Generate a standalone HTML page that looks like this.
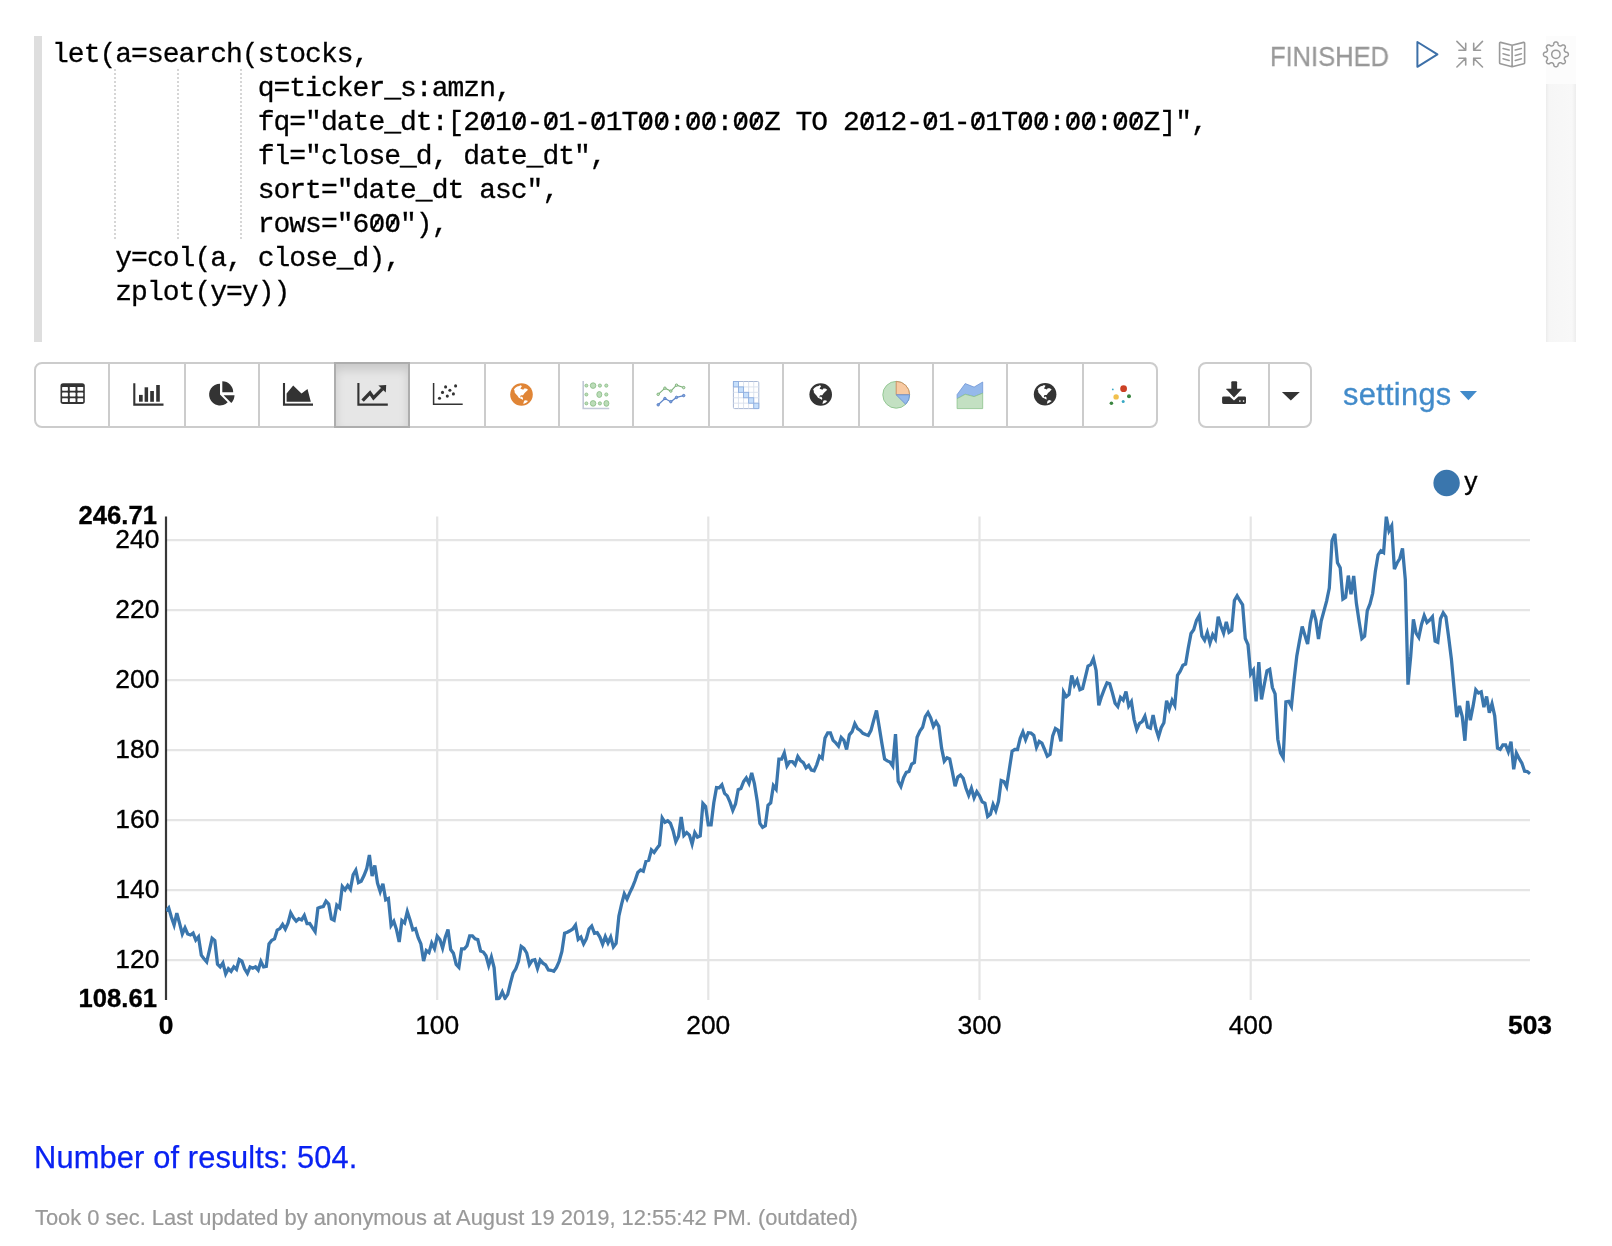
<!DOCTYPE html>
<html>
<head>
<meta charset="utf-8">
<title>Zeppelin paragraph</title>
<style>
html,body{margin:0;padding:0;background:#fff;}
body{width:1612px;height:1246px;position:relative;overflow:hidden;font-family:"Liberation Sans",sans-serif;color:#000;}
.abs{position:absolute;}
#gutter{left:34px;top:36px;width:8px;height:306px;background:#dedede;}
#scroll{left:1546px;top:84px;width:30px;height:258px;background:linear-gradient(to right,#ececec 0,#f6f6f6 3px,#f8f8f8 26px,#ededed 30px);}
#scrolltop{left:1546px;top:36px;width:30px;height:48px;background:#fcfcfc;}
#code{left:52.4px;top:38.2px;margin:0;font-family:"Liberation Mono",monospace;font-size:28px;letter-spacing:-0.983px;line-height:34px;color:#000;white-space:pre;-webkit-text-stroke:0.3px #000;}
.guide{width:0;border-left:2px dotted #d6d6d6;top:69px;height:170px;}
#status{-webkit-text-stroke:0.3px #999;left:1270.2px;top:40.6px;font-size:27.4px;line-height:32px;color:#999;transform:scaleX(0.931);transform-origin:0 0;white-space:nowrap;}
.btn{position:absolute;top:362px;height:62px;border:2px solid #ccc;background:#fff;}
.btn.first{border-radius:8px 0 0 8px;}
.btn.last{border-radius:0 8px 8px 0;}
.btn.active{background:#e6e6e6;border-color:#adadad;box-shadow:inset 0 6px 10px rgba(0,0,0,.125);z-index:2;}
#settings{-webkit-text-stroke:0.3px #428bca;left:1342.8px;top:377.4px;letter-spacing:0.3px;font-size:30.8px;line-height:36px;color:#428bca;white-space:nowrap;}
#results{-webkit-text-stroke:0.25px #0a22f2;left:33.5px;top:1140px;font-size:30.8px;line-height:36px;color:#0a22f2;letter-spacing:0.15px;white-space:nowrap;}
#took{-webkit-text-stroke:0.2px #999;left:34.8px;top:1205px;font-size:21.9px;line-height:26px;color:#999;white-space:nowrap;}
svg{position:absolute;left:0;top:0;overflow:visible;}
svg text{font-family:"Liberation Sans",sans-serif;stroke:#000;stroke-width:0.35px;}

#code,#status,#settings,#results,#took,#chart{will-change:transform;}

</style>
</head>
<body>
<div id="gutter" class="abs"></div>
<div id="scrolltop" class="abs"></div>
<div id="scroll" class="abs"></div>
<div class="abs guide" style="left:114px"></div>
<div class="abs guide" style="left:177px"></div>
<div class="abs guide" style="left:240px"></div>
<pre id="code" class="abs">let(a=search(stocks,
             q=ticker_s:amzn,
             fq="date_dt:[2010-01-01T00:00:00Z TO 2012-01-01T00:00:00Z]",
             fl="close_d, date_dt",
             sort="date_dt asc",
             rows="600"),
    y=col(a, close_d),
    zplot(y=y))</pre>
<svg id="slashes" width="1612" height="1246" viewBox="0 0 1612 1246" style="z-index:3"><path d="M484.3 126.3L490.6 115.5M516.0 126.3L522.2 115.5M547.6 126.3L553.8 115.5M595.1 126.3L601.3 115.5M642.5 126.3L648.8 115.5M658.4 126.3L664.6 115.5M690.0 126.3L696.2 115.5M705.8 126.3L712.0 115.5M737.5 126.3L743.7 115.5M753.3 126.3L759.5 115.5M864.0 126.3L870.2 115.5M927.3 126.3L933.5 115.5M974.8 126.3L981.0 115.5M1022.2 126.3L1028.4 115.5M1038.1 126.3L1044.2 115.5M1069.7 126.3L1075.9 115.5M1085.5 126.3L1091.7 115.5M1117.2 126.3L1123.3 115.5M1133.0 126.3L1139.2 115.5M373.6 228.3L379.8 217.5M389.4 228.3L395.6 217.5" stroke="#000" stroke-width="2" fill="none"/></svg>
<div id="status" class="abs">FINISHED</div>
<svg id="ctrl" width="1612" height="1246" viewBox="0 0 1612 1246" style="z-index:5">
<path d="M1417.4 42.0L1437.4 54.4L1417.4 66.8Z" fill="none" stroke="#3d70a8" stroke-width="2" stroke-linejoin="round"/>
<path d="M1456.9 41.4L1465.7 50.2M1465.7 43.4V50.2H1458.9M1456.9 67.0L1465.7 58.2M1465.7 65.0V58.2H1458.9M1482.5 41.4L1473.7 50.2M1473.7 43.4V50.2H1480.5M1482.5 67.0L1473.7 58.2M1473.7 65.0V58.2H1480.5" fill="none" stroke="#9a9a9a" stroke-width="1.6" stroke-linecap="round" stroke-linejoin="round"/>
<path d="M1512.1 45.2L1500.6 42.4Q1499.6 42.2 1499.6 43.2V62.8Q1499.6 63.6 1500.4 63.8L1512.1 66.8L1523.8 63.8Q1524.6 63.6 1524.6 62.8V43.2Q1524.6 42.2 1523.6 42.4ZM1512.1 45.2V66.8" fill="none" stroke="#9a9a9a" stroke-width="1.6" stroke-linejoin="round"/>
<path d="M1503 48.6L1509.2 50.1M1521.4 48.6L1515.2 50.1M1503 53.8L1509.2 55.4M1521.4 53.8L1515.2 55.4M1503 58.8L1509.2 60.4M1521.4 58.8L1515.2 60.4" fill="none" stroke="#9a9a9a" stroke-width="1.5" stroke-linecap="round"/>
<path d="M1568.35 54.35L1568.33 54.68L1568.26 55.00L1568.14 55.31L1567.97 55.62L1567.74 55.91L1567.44 56.18L1567.02 56.41L1566.06 56.51L1565.63 56.69L1565.32 56.88L1565.07 57.07L1564.86 57.26L1564.69 57.46L1564.55 57.67L1564.45 57.89L1564.37 58.12L1564.32 58.37L1564.30 58.63L1564.31 58.92L1564.35 59.23L1564.44 59.58L1564.61 60.01L1565.22 60.76L1565.36 61.22L1565.37 61.62L1565.33 61.99L1565.23 62.32L1565.09 62.63L1564.92 62.91L1564.70 63.15L1564.46 63.37L1564.18 63.54L1563.87 63.68L1563.54 63.78L1563.17 63.82L1562.77 63.81L1562.31 63.67L1561.56 63.06L1561.13 62.89L1560.78 62.80L1560.47 62.76L1560.18 62.75L1559.92 62.77L1559.67 62.82L1559.44 62.90L1559.22 63.00L1559.01 63.14L1558.81 63.31L1558.62 63.52L1558.43 63.77L1558.24 64.08L1558.06 64.51L1557.96 65.47L1557.73 65.89L1557.46 66.19L1557.17 66.42L1556.86 66.59L1556.55 66.71L1556.23 66.78L1555.90 66.80L1555.57 66.78L1555.25 66.71L1554.94 66.59L1554.63 66.42L1554.34 66.19L1554.07 65.89L1553.84 65.47L1553.74 64.51L1553.56 64.08L1553.37 63.77L1553.18 63.52L1552.99 63.31L1552.79 63.14L1552.58 63.00L1552.36 62.90L1552.13 62.82L1551.88 62.77L1551.62 62.75L1551.33 62.76L1551.02 62.80L1550.67 62.89L1550.24 63.06L1549.49 63.67L1549.03 63.81L1548.63 63.82L1548.26 63.78L1547.93 63.68L1547.62 63.54L1547.34 63.37L1547.10 63.15L1546.88 62.91L1546.71 62.63L1546.57 62.32L1546.47 61.99L1546.43 61.62L1546.44 61.22L1546.58 60.76L1547.19 60.01L1547.36 59.58L1547.45 59.23L1547.49 58.92L1547.50 58.63L1547.48 58.37L1547.43 58.12L1547.35 57.89L1547.25 57.67L1547.11 57.46L1546.94 57.26L1546.73 57.07L1546.48 56.88L1546.17 56.69L1545.74 56.51L1544.78 56.41L1544.36 56.18L1544.06 55.91L1543.83 55.62L1543.66 55.31L1543.54 55.00L1543.47 54.68L1543.45 54.35L1543.47 54.02L1543.54 53.70L1543.66 53.39L1543.83 53.08L1544.06 52.79L1544.36 52.52L1544.78 52.29L1545.74 52.19L1546.17 52.01L1546.48 51.82L1546.73 51.63L1546.94 51.44L1547.11 51.24L1547.25 51.03L1547.35 50.81L1547.43 50.58L1547.48 50.33L1547.50 50.07L1547.49 49.78L1547.45 49.47L1547.36 49.12L1547.19 48.69L1546.58 47.94L1546.44 47.48L1546.43 47.08L1546.47 46.71L1546.57 46.38L1546.71 46.07L1546.88 45.79L1547.10 45.55L1547.34 45.33L1547.62 45.16L1547.93 45.02L1548.26 44.92L1548.63 44.88L1549.03 44.89L1549.49 45.03L1550.24 45.64L1550.67 45.81L1551.02 45.90L1551.33 45.94L1551.62 45.95L1551.88 45.93L1552.13 45.88L1552.36 45.80L1552.58 45.70L1552.79 45.56L1552.99 45.39L1553.18 45.18L1553.37 44.93L1553.56 44.62L1553.74 44.19L1553.84 43.23L1554.07 42.81L1554.34 42.51L1554.63 42.28L1554.94 42.11L1555.25 41.99L1555.57 41.92L1555.90 41.90L1556.23 41.92L1556.55 41.99L1556.86 42.11L1557.17 42.28L1557.46 42.51L1557.73 42.81L1557.96 43.23L1558.06 44.19L1558.24 44.62L1558.43 44.93L1558.62 45.18L1558.81 45.39L1559.01 45.56L1559.22 45.70L1559.44 45.80L1559.67 45.88L1559.92 45.93L1560.18 45.95L1560.47 45.94L1560.78 45.90L1561.13 45.81L1561.56 45.64L1562.31 45.03L1562.77 44.89L1563.17 44.88L1563.54 44.92L1563.87 45.02L1564.18 45.16L1564.46 45.33L1564.70 45.55L1564.92 45.79L1565.09 46.07L1565.23 46.38L1565.33 46.71L1565.37 47.08L1565.36 47.48L1565.22 47.94L1564.61 48.69L1564.44 49.12L1564.35 49.47L1564.31 49.78L1564.30 50.07L1564.32 50.33L1564.37 50.58L1564.45 50.81L1564.55 51.03L1564.69 51.24L1564.86 51.44L1565.07 51.63L1565.32 51.82L1565.63 52.01L1566.06 52.19L1567.02 52.29L1567.44 52.52L1567.74 52.79L1567.97 53.08L1568.14 53.39L1568.26 53.70L1568.33 54.02Z" fill="none" stroke="#9a9a9a" stroke-width="1.5" stroke-linejoin="round"/>
<circle cx="1555.9" cy="54.35" r="4.2" fill="none" stroke="#9a9a9a" stroke-width="1.5"/>
</svg>
<div class="btn first" style="left:34px;width:72px"></div>
<div class="btn" style="left:108px;width:74px"></div>
<div class="btn" style="left:184px;width:72px"></div>
<div class="btn" style="left:258px;width:74px"></div>
<div class="btn active" style="left:334px;width:72px"></div>
<div class="btn" style="left:408px;width:74px"></div>
<div class="btn" style="left:484px;width:72px"></div>
<div class="btn" style="left:558px;width:72px"></div>
<div class="btn" style="left:632px;width:74px"></div>
<div class="btn" style="left:708px;width:72px"></div>
<div class="btn" style="left:782px;width:74px"></div>
<div class="btn" style="left:858px;width:72px"></div>
<div class="btn" style="left:932px;width:72px"></div>
<div class="btn" style="left:1006px;width:74px"></div>
<div class="btn last" style="left:1082px;width:72px"></div>
<div class="btn first" style="left:1198px;width:68px"></div>
<div class="btn last" style="left:1268px;width:40px"></div>
<svg id="icons" width="1612" height="1246" viewBox="0 0 1612 1246" style="z-index:5">
<rect x="60.5" y="383.2" width="24.3" height="20.7" rx="2.6" fill="#333"/>
<rect x="62.1" y="386.9" width="5.8" height="3.8" rx="0.6" fill="#fff"/>
<rect x="62.1" y="392.6" width="5.8" height="3.8" rx="0.6" fill="#fff"/>
<rect x="62.1" y="398.3" width="5.8" height="3.8" rx="0.6" fill="#fff"/>
<rect x="69.75" y="386.9" width="5.8" height="3.8" rx="0.6" fill="#fff"/>
<rect x="69.75" y="392.6" width="5.8" height="3.8" rx="0.6" fill="#fff"/>
<rect x="69.75" y="398.3" width="5.8" height="3.8" rx="0.6" fill="#fff"/>
<rect x="77.4" y="386.9" width="5.8" height="3.8" rx="0.6" fill="#fff"/>
<rect x="77.4" y="392.6" width="5.8" height="3.8" rx="0.6" fill="#fff"/>
<rect x="77.4" y="398.3" width="5.8" height="3.8" rx="0.6" fill="#fff"/>
<path d="M134.3 383.2V404.6H163.5" fill="none" stroke="#333" stroke-width="2.1"/>
<rect x="139.0" y="394.9" width="3.7" height="6.8" fill="#333"/>
<rect x="144.6" y="387.3" width="3.5" height="14.5" fill="#333"/>
<rect x="150.2" y="391.0" width="3.7" height="10.8" fill="#333"/>
<rect x="156.2" y="385.0" width="3.6" height="16.7" fill="#333"/>
<path d="M220.0 394.6L220.0 383.70000000000005A10.9 10.9 0 1 0 227.71 402.31Z" fill="#333"/>
<path d="M222.3 392.2L222.3 381.3A10.9 10.9 0 0 1 233.20000000000002 392.2Z" fill="#333"/>
<path d="M223.6 395.2L234.5 395.2A10.9 10.9 0 0 1 231.31 402.91Z" fill="#333"/>
<path d="M284 383V404.6H313" fill="none" stroke="#333" stroke-width="2.1"/>
<path d="M286.6 401.7V393.5L293.2 385.5L301.5 393.6L307.5 388.9L310.8 401.7Z" fill="#333"/>
<path d="M358.4 383V404.6H387.8" fill="none" stroke="#333" stroke-width="2.1"/>
<path d="M362.6 400.6L370 392.9L373.5 397.9L382.4 388.9" fill="none" stroke="#333" stroke-width="3.4" stroke-linejoin="miter"/>
<path d="M378.4 385.4L386.2 385.1L385.8 392.6Z" fill="#333"/>
<path d="M433.6 383V404.2H462.7" fill="none" stroke="#333" stroke-width="1.5"/>
<circle cx="439.5" cy="398.2" r="1.55" fill="#333"/>
<circle cx="442.5" cy="392.4" r="1.55" fill="#333"/>
<circle cx="445.6" cy="386.9" r="1.55" fill="#333"/>
<circle cx="447.3" cy="396.1" r="1.55" fill="#333"/>
<circle cx="449.9" cy="390.2" r="1.55" fill="#333"/>
<circle cx="453.4" cy="393.9" r="1.55" fill="#333"/>
<circle cx="455.6" cy="385.9" r="1.55" fill="#333"/>
<circle cx="521.5" cy="394.5" r="11.3" fill="#e08536"/><polygon points="513.90,389.60 515.09,387.88 517.21,386.56 519.33,385.89 520.26,385.23 521.98,386.03 521.18,387.22 520.39,388.81 521.98,389.20 523.30,389.73 524.10,388.41 526.21,388.41 528.07,389.73 527.01,390.79 525.95,391.85 524.62,392.91 523.57,394.50 523.04,395.29 521.98,395.29 520.92,395.29 520.26,396.35 520.65,397.68 521.45,396.62 522.51,397.15 523.04,398.21 522.77,400.06 521.98,399.27 520.39,398.47 518.80,397.68 517.47,395.82 515.62,393.71 514.69,392.38 514.56,390.79" fill="#fff"/><polygon points="523.30,403.90 523.70,401.92 524.36,400.59 525.95,400.19 528.07,401.12 526.74,402.18 525.15,403.24" fill="#fff"/>
<circle cx="820.7" cy="394.5" r="11.3" fill="#333"/><polygon points="813.10,389.60 814.29,387.88 816.41,386.56 818.53,385.89 819.46,385.23 821.18,386.03 820.38,387.22 819.59,388.81 821.18,389.20 822.50,389.73 823.30,388.41 825.41,388.41 827.27,389.73 826.21,390.79 825.15,391.85 823.83,392.91 822.77,394.50 822.24,395.29 821.18,395.29 820.12,395.29 819.46,396.35 819.85,397.68 820.65,396.62 821.71,397.15 822.24,398.21 821.97,400.06 821.18,399.27 819.59,398.47 818.00,397.68 816.67,395.82 814.82,393.71 813.89,392.38 813.76,390.79" fill="#fff"/><polygon points="822.50,403.90 822.90,401.92 823.56,400.59 825.15,400.19 827.27,401.12 825.94,402.18 824.35,403.24" fill="#fff"/>
<circle cx="1045.1" cy="394.3" r="11.3" fill="#333"/><polygon points="1037.50,389.40 1038.69,387.68 1040.81,386.36 1042.93,385.69 1043.86,385.03 1045.58,385.83 1044.78,387.02 1043.99,388.61 1045.58,389.00 1046.90,389.53 1047.70,388.21 1049.81,388.21 1051.67,389.53 1050.61,390.59 1049.55,391.65 1048.22,392.71 1047.17,394.30 1046.64,395.09 1045.58,395.09 1044.52,395.09 1043.86,396.15 1044.25,397.48 1045.05,396.42 1046.11,396.95 1046.64,398.01 1046.37,399.86 1045.58,399.07 1043.99,398.27 1042.40,397.48 1041.07,395.62 1039.22,393.51 1038.29,392.18 1038.16,390.59" fill="#fff"/><polygon points="1046.90,403.70 1047.30,401.72 1047.96,400.39 1049.55,399.99 1051.67,400.92 1050.34,401.98 1048.75,403.04" fill="#fff"/>
<path d="M583.2 380.9V408.5H609.2" fill="none" stroke="#c3c9d8" stroke-width="1.6"/>
<ellipse cx="586.4" cy="385.6" rx="1.5" ry="1.5" fill="#bcdcb9" stroke="#86bb83" stroke-width="0.8"/>
<ellipse cx="593.1" cy="385.6" rx="2.8" ry="2.8" fill="#bcdcb9" stroke="#86bb83" stroke-width="0.8"/>
<ellipse cx="599.9" cy="385.6" rx="1.6" ry="1.6" fill="#bcdcb9" stroke="#86bb83" stroke-width="0.8"/>
<ellipse cx="606.3" cy="385.6" rx="1.6" ry="1.6" fill="#bcdcb9" stroke="#86bb83" stroke-width="0.8"/>
<ellipse cx="586.4" cy="394.5" rx="1.5" ry="1.5" fill="#bcdcb9" stroke="#86bb83" stroke-width="0.8"/>
<ellipse cx="599.3" cy="394.5" rx="2.5" ry="3.0" fill="#bcdcb9" stroke="#86bb83" stroke-width="0.8"/>
<ellipse cx="606.3" cy="394.5" rx="1.6" ry="1.6" fill="#bcdcb9" stroke="#86bb83" stroke-width="0.8"/>
<ellipse cx="586.4" cy="403.4" rx="1.5" ry="1.5" fill="#bcdcb9" stroke="#86bb83" stroke-width="0.8"/>
<ellipse cx="593.1" cy="403.4" rx="2.8" ry="2.8" fill="#bcdcb9" stroke="#86bb83" stroke-width="0.8"/>
<ellipse cx="599.9" cy="403.4" rx="1.6" ry="1.6" fill="#bcdcb9" stroke="#86bb83" stroke-width="0.8"/>
<ellipse cx="606.4" cy="403.4" rx="2.5" ry="2.9" fill="#bcdcb9" stroke="#86bb83" stroke-width="0.8"/>
<polyline points="658.2,394.3 664.9,388.2 670.8,391.1 676.5,385.2 683.7,387.6" fill="none" stroke="#7cb078" stroke-width="1.1"/>
<circle cx="658.2" cy="394.3" r="1.25" fill="#cfe6cc" stroke="#6fa86b" stroke-width="0.8"/>
<circle cx="664.9" cy="388.2" r="1.25" fill="#cfe6cc" stroke="#6fa86b" stroke-width="0.8"/>
<circle cx="670.8" cy="391.1" r="1.25" fill="#cfe6cc" stroke="#6fa86b" stroke-width="0.8"/>
<circle cx="676.5" cy="385.2" r="1.25" fill="#cfe6cc" stroke="#6fa86b" stroke-width="0.8"/>
<circle cx="683.7" cy="387.6" r="1.25" fill="#cfe6cc" stroke="#6fa86b" stroke-width="0.8"/>
<polyline points="658.2,404.8 664.9,398.5 670.8,401.7 676.5,397.4 683.7,395.6" fill="none" stroke="#5e86c9" stroke-width="1.2"/>
<circle cx="658.2" cy="404.8" r="1.25" fill="#7fa3dd" stroke="#5079c0" stroke-width="0.8"/>
<circle cx="664.9" cy="398.5" r="1.25" fill="#7fa3dd" stroke="#5079c0" stroke-width="0.8"/>
<circle cx="670.8" cy="401.7" r="1.25" fill="#7fa3dd" stroke="#5079c0" stroke-width="0.8"/>
<circle cx="676.5" cy="397.4" r="1.25" fill="#7fa3dd" stroke="#5079c0" stroke-width="0.8"/>
<circle cx="683.7" cy="395.6" r="1.25" fill="#7fa3dd" stroke="#5079c0" stroke-width="0.8"/>
<rect x="733.4" y="381.5" width="25.4" height="27.1" rx="1.2" fill="#fff" stroke="#a9b8d4" stroke-width="1"/>
<path d="M738.48 381.5V408.6M733.4 386.92H758.8" stroke="#d8e0ec" stroke-width="0.9" fill="none"/>
<path d="M743.56 381.5V408.6M733.4 392.34H758.8" stroke="#d8e0ec" stroke-width="0.9" fill="none"/>
<path d="M748.64 381.5V408.6M733.4 397.76H758.8" stroke="#d8e0ec" stroke-width="0.9" fill="none"/>
<path d="M753.72 381.5V408.6M733.4 403.18H758.8" stroke="#d8e0ec" stroke-width="0.9" fill="none"/>
<rect x="733.40" y="381.50" width="5.08" height="5.42" fill="#c6dffb" stroke="#8eaedf" stroke-width="0.9"/>
<rect x="738.48" y="386.92" width="5.08" height="5.42" fill="#c6dffb" stroke="#8eaedf" stroke-width="0.9"/>
<rect x="743.56" y="392.34" width="5.08" height="5.42" fill="#c6dffb" stroke="#8eaedf" stroke-width="0.9"/>
<rect x="748.64" y="397.76" width="5.08" height="5.42" fill="#c6dffb" stroke="#8eaedf" stroke-width="0.9"/>
<rect x="753.72" y="403.18" width="5.08" height="5.42" fill="#c6dffb" stroke="#8eaedf" stroke-width="0.9"/>
<circle cx="896.2" cy="394.8" r="13.4" fill="#c3e0c2" stroke="#8cc38c" stroke-width="0.9"/>
<path d="M896.2 394.8V381.40000000000003A13.4 13.4 0 0 1 909.6 394.8Z" fill="#f8caa2" stroke="#c88b5e" stroke-width="0.9"/>
<path d="M896.2 394.8H909.6A13.4 13.4 0 0 1 905.68 404.28Z" fill="#95b9eb" stroke="#6b92d2" stroke-width="0.9"/>
<polygon points="957.1,394.6 965.2,383.6 974.1,387.1 982.7,382.0 982.7,393.2 974.1,396.6 965.2,394.3 957.1,398.7" fill="#95b9eb" stroke="#7297d6" stroke-width="0.8"/>
<polygon points="957.1,398.7 965.2,394.3 974.1,396.6 982.7,393.2 982.7,408.6 957.1,408.6" fill="#c3e0c2" stroke="#8cc38c" stroke-width="0.8"/>
<circle cx="1123.6" cy="388.7" r="3.4" fill="#cc4125"/>
<circle cx="1116.1" cy="396.9" r="2.7" fill="#f1c04e"/>
<circle cx="1129.0" cy="396.2" r="2.0" fill="#3a8540"/>
<circle cx="1111.4" cy="403.2" r="1.8" fill="#3a8540"/>
<circle cx="1123.2" cy="401.5" r="1.5" fill="#39a8c4"/>
<circle cx="1112.8" cy="389.4" r="0.9" fill="#39a8c4"/>
<rect x="1231.3" y="381.2" width="5.8" height="9" rx="1" fill="#333"/>
<path d="M1226.4 389.0H1241.6L1234 397.2Z" fill="#333" stroke="#333" stroke-width="0.6" stroke-linejoin="round"/>
<path d="M1223.5 396.4H1229.6L1234 400.6L1238.4 396.4H1244.6Q1246 396.4 1246 397.8V402.6Q1246 404 1244.6 404H1223.5Q1222.1 404 1222.1 402.6V397.8Q1222.1 396.4 1223.5 396.4Z" fill="#333"/>
<rect x="1239.2" y="400.3" width="1.3" height="1.5" fill="#fff"/><rect x="1242.9" y="400.3" width="1.3" height="1.5" fill="#fff"/>
<path d="M1281.9 392.1H1299.8L1290.85 400.4Z" fill="#333"/>
<path d="M1459.8 391H1477L1468.4 400.2Z" fill="#428bca"/>
</svg>
<div id="settings" class="abs">settings</div>
<svg id="chart" width="1612" height="1246" viewBox="0 0 1612 1246">
<defs><clipPath id="cp"><rect x="166" y="516" width="1365" height="484.2"/></clipPath></defs>
<path d="M166.0 960.1H1530.0M166.0 890.1H1530.0M166.0 820.1H1530.0M166.0 750.1H1530.0M166.0 680.1H1530.0M166.0 610.1H1530.0M166.0 540.1H1530.0M437.2 516.6V1000.0M708.3 516.6V1000.0M979.5 516.6V1000.0M1250.7 516.6V1000.0" fill="none" stroke="#e5e5e5" stroke-width="2.2"/>
<path d="M166.0 516.6V1000.0" fill="none" stroke="#000" stroke-opacity=".78" stroke-width="2.2"/>
<g font-size="26.4" text-anchor="end" fill="#000">
<text x="159.4" y="967.9">120</text>
<text x="159.4" y="897.9">140</text>
<text x="159.4" y="827.9">160</text>
<text x="159.4" y="757.9">180</text>
<text x="159.4" y="687.9">200</text>
<text x="159.4" y="617.9">220</text>
<text x="159.4" y="547.9">240</text>
<text x="156.9" y="523.9" font-weight="bold" font-size="25.6">246.71</text>
<text x="156.9" y="1007.0" font-weight="bold" font-size="25.6">108.61</text>
</g>
<g font-size="26.4" text-anchor="middle" fill="#000">
<text x="437.2" y="1033.7">100</text>
<text x="708.3" y="1033.7">200</text>
<text x="979.5" y="1033.7">300</text>
<text x="1250.7" y="1033.7">400</text>
<text x="166.0" y="1033.7" font-weight="bold">0</text>
<text x="1530.0" y="1033.7" font-weight="bold">503</text>
</g>
<circle cx="1446.6" cy="483" r="13.2" fill="#3a76ad"/>
<text x="1464.3" y="490.3" font-size="26.4" fill="#000">y</text>
<polyline clip-path="url(#cp)" points="166.0,910.9 168.7,907.8 171.4,917.2 174.1,925.0 176.8,913.2 179.6,923.4 182.3,933.9 185.0,927.8 187.7,934.0 190.4,935.0 193.1,933.1 195.8,940.0 198.5,936.8 201.3,955.1 204.0,958.8 206.7,962.0 209.4,950.4 212.1,938.3 214.8,940.5 217.5,964.2 220.2,966.9 222.9,962.9 225.7,974.0 228.4,968.8 231.1,971.3 233.8,966.9 236.5,969.4 239.2,959.5 241.9,961.1 244.6,968.8 247.4,973.3 250.1,966.9 252.8,968.2 255.5,966.9 258.2,970.1 260.9,961.4 263.6,966.9 266.3,966.3 269.0,943.9 271.8,940.2 274.5,938.9 277.2,930.2 279.9,928.6 282.6,924.4 285.3,929.1 288.0,923.1 290.7,912.9 293.5,917.8 296.2,921.1 298.9,918.7 301.6,919.9 304.3,915.5 307.0,923.6 309.7,923.4 312.4,927.7 315.1,931.7 317.9,908.2 320.6,907.2 323.3,906.6 326.0,901.2 328.7,904.1 331.4,919.0 334.1,920.3 336.8,905.2 339.6,907.9 342.3,886.5 345.0,889.8 347.7,885.4 350.4,889.3 353.1,874.9 355.8,870.2 358.5,882.6 361.2,881.3 364.0,875.5 366.7,868.7 369.4,855.0 372.1,876.1 374.8,865.5 377.5,883.0 380.2,891.6 382.9,883.7 385.7,899.7 388.4,898.4 391.1,925.4 393.8,921.3 396.5,929.6 399.2,942.0 401.9,920.6 404.6,923.0 407.3,911.6 410.1,920.3 412.8,929.8 415.5,928.7 418.2,937.7 420.9,943.9 423.6,961.0 426.3,950.6 429.0,952.6 431.7,943.0 434.5,948.6 437.2,936.3 439.9,939.6 442.6,948.1 445.3,937.1 448.0,929.5 450.7,949.5 453.4,953.2 456.2,964.4 458.9,967.4 461.6,948.9 464.3,948.9 467.0,945.8 469.7,935.8 472.4,935.8 475.1,938.9 477.8,939.6 480.6,951.0 483.3,952.0 486.0,955.7 488.7,965.7 491.4,957.1 494.1,967.5 496.8,999.8 499.5,998.0 502.3,991.9 505.0,998.3 507.7,994.3 510.4,983.1 513.1,973.1 515.8,968.8 518.5,961.3 521.2,946.4 523.9,948.3 526.7,953.0 529.4,964.7 532.1,960.4 534.8,959.7 537.5,968.5 540.2,960.1 542.9,963.2 545.6,965.0 548.4,970.0 551.1,970.3 553.8,971.3 556.5,967.5 559.2,961.3 561.9,951.4 564.6,933.3 567.3,932.3 570.0,930.8 572.8,929.0 575.5,925.1 578.2,939.4 580.9,937.1 583.6,943.8 586.3,938.9 589.0,929.0 591.7,926.1 594.5,933.3 597.2,932.7 599.9,937.1 602.6,944.2 605.3,936.6 608.0,942.9 610.7,937.0 613.4,946.9 616.1,943.3 618.9,915.9 621.6,904.1 624.3,893.8 627.0,899.1 629.7,892.9 632.4,887.3 635.1,880.5 637.8,872.4 640.6,869.9 643.3,871.2 646.0,861.2 648.7,860.3 651.4,849.9 654.1,852.5 656.8,848.5 659.5,845.0 662.2,817.9 665.0,822.3 667.7,820.8 670.4,823.3 673.1,830.7 675.8,841.7 678.5,836.3 681.2,817.1 683.9,835.5 686.7,832.6 689.4,835.1 692.1,844.1 694.8,832.6 697.5,837.2 700.2,836.0 702.9,803.5 705.6,806.5 708.3,824.8 711.1,824.8 713.8,802.8 716.5,787.6 719.2,787.8 721.9,784.7 724.6,793.4 727.3,795.9 730.0,802.1 732.8,810.4 735.5,804.0 738.2,789.6 740.9,788.5 743.6,781.6 746.3,778.0 749.0,783.4 751.7,772.9 754.4,783.5 757.2,800.9 759.9,823.5 762.6,827.4 765.3,825.8 768.0,805.2 770.7,802.8 773.4,785.6 776.1,789.3 778.9,759.2 781.6,759.2 784.3,752.9 787.0,765.9 789.7,761.7 792.4,761.7 795.1,764.7 797.8,756.5 800.5,760.5 803.3,762.6 806.0,767.8 808.7,765.4 811.4,770.0 814.1,770.8 816.8,764.6 819.5,756.1 822.2,758.4 825.0,737.9 827.7,732.9 830.4,732.9 833.1,740.4 835.8,742.9 838.5,746.2 841.2,737.5 843.9,740.4 846.6,749.5 849.4,734.8 852.1,731.7 854.8,723.6 857.5,728.6 860.2,730.4 862.9,733.3 865.6,734.5 868.3,735.4 871.0,730.4 873.8,719.9 876.5,710.5 879.2,726.7 881.9,743.5 884.6,759.0 887.3,760.9 890.0,762.1 892.7,766.0 895.5,734.2 898.2,781.4 900.9,786.4 903.6,777.7 906.3,772.3 909.0,771.5 911.7,764.0 914.4,762.4 917.1,737.3 919.9,731.0 922.6,727.3 925.3,716.7 928.0,712.6 930.7,718.0 933.4,726.4 936.1,721.8 938.8,726.3 941.6,748.2 944.3,761.1 947.0,757.7 949.7,759.0 952.4,772.1 955.1,786.2 957.8,777.1 960.5,775.0 963.2,778.3 966.0,788.3 968.7,795.4 971.4,788.2 974.1,797.8 976.8,791.6 979.5,795.7 982.2,801.9 984.9,803.2 987.7,816.6 990.4,814.4 993.1,804.4 995.8,810.6 998.5,801.3 1001.2,780.5 1003.9,781.5 1006.6,786.8 1009.3,769.4 1012.1,751.3 1014.8,749.5 1017.5,749.5 1020.2,738.3 1022.9,731.8 1025.6,739.7 1028.3,732.7 1031.0,733.0 1033.8,735.5 1036.5,747.4 1039.2,741.4 1041.9,743.2 1044.6,749.5 1047.3,756.3 1050.0,754.4 1052.7,735.8 1055.4,728.6 1058.2,730.4 1060.9,741.4 1063.6,691.9 1066.3,696.7 1069.0,694.5 1071.7,675.4 1074.4,685.1 1077.1,680.1 1079.9,689.7 1082.6,688.5 1085.3,677.3 1088.0,666.1 1090.7,664.6 1093.4,658.6 1096.1,670.5 1098.8,705.3 1101.5,696.6 1104.3,689.1 1107.0,682.9 1109.7,683.8 1112.4,692.9 1115.1,703.2 1117.8,706.6 1120.5,697.4 1123.2,700.1 1126.0,691.6 1128.7,706.0 1131.4,701.7 1134.1,719.6 1136.8,729.5 1139.5,723.3 1142.2,721.5 1144.9,716.2 1147.6,727.1 1150.4,728.3 1153.1,715.2 1155.8,728.3 1158.5,736.9 1161.2,727.7 1163.9,722.7 1166.6,700.8 1169.3,708.9 1172.1,700.2 1174.8,705.5 1177.5,675.4 1180.2,671.1 1182.9,665.2 1185.6,664.0 1188.3,647.8 1191.0,633.5 1193.7,629.8 1196.5,620.4 1199.2,615.6 1201.9,636.0 1204.6,640.2 1207.3,632.5 1210.0,643.0 1212.7,634.6 1215.4,639.1 1218.2,616.7 1220.9,626.0 1223.6,633.1 1226.3,621.8 1229.0,632.3 1231.7,630.4 1234.4,600.5 1237.1,595.8 1239.8,600.5 1242.6,604.9 1245.3,638.5 1248.0,644.7 1250.7,674.0 1253.4,670.1 1256.1,701.3 1258.8,662.1 1261.5,699.4 1264.3,684.5 1267.0,670.8 1269.7,669.3 1272.4,687.6 1275.1,693.8 1277.8,739.2 1280.5,753.0 1283.2,757.8 1285.9,701.9 1288.7,701.3 1291.4,706.6 1294.1,679.5 1296.8,655.9 1299.5,640.9 1302.2,626.6 1304.9,635.3 1307.6,644.1 1310.3,622.9 1313.1,609.9 1315.8,619.8 1318.5,639.1 1321.2,621.0 1323.9,611.1 1326.6,601.1 1329.3,588.1 1332.0,540.8 1334.8,533.8 1337.5,562.8 1340.2,567.8 1342.9,599.2 1345.6,597.4 1348.3,575.6 1351.0,594.3 1353.7,575.9 1356.4,603.3 1359.2,621.9 1361.9,638.5 1364.6,636.2 1367.3,610.7 1370.0,603.9 1372.7,593.3 1375.4,570.9 1378.1,554.8 1380.9,550.8 1383.6,552.6 1386.3,516.7 1389.0,530.8 1391.7,525.8 1394.4,569.2 1397.1,563.0 1399.8,558.5 1402.5,548.3 1405.3,579.6 1408.0,684.7 1410.7,656.4 1413.4,619.4 1416.1,633.1 1418.8,637.4 1421.5,624.4 1424.2,615.7 1427.0,622.5 1429.7,620.0 1432.4,616.8 1435.1,641.2 1437.8,642.4 1440.5,618.8 1443.2,612.9 1445.9,616.9 1448.6,636.8 1451.4,659.2 1454.1,688.5 1456.8,717.2 1459.5,706.0 1462.2,716.3 1464.9,740.7 1467.6,700.9 1470.3,720.2 1473.1,705.9 1475.8,689.8 1478.5,693.0 1481.2,691.9 1483.9,707.1 1486.6,696.5 1489.3,712.7 1492.0,703.8 1494.7,715.8 1497.5,748.2 1500.2,749.4 1502.9,745.0 1505.6,745.0 1508.3,751.8 1511.0,741.7 1513.7,769.3 1516.4,753.0 1519.2,758.7 1521.9,763.1 1524.6,771.2 1527.3,771.5 1530.0,773.7" fill="none" stroke="#3a76ad" stroke-width="3.3" stroke-linejoin="miter" stroke-linecap="butt"/>
</svg>
<div id="results" class="abs">Number of results: 504.</div>
<div id="took" class="abs">Took 0 sec. Last updated by anonymous at August 19 2019, 12:55:42 PM. (outdated)</div>
</body>
</html>
